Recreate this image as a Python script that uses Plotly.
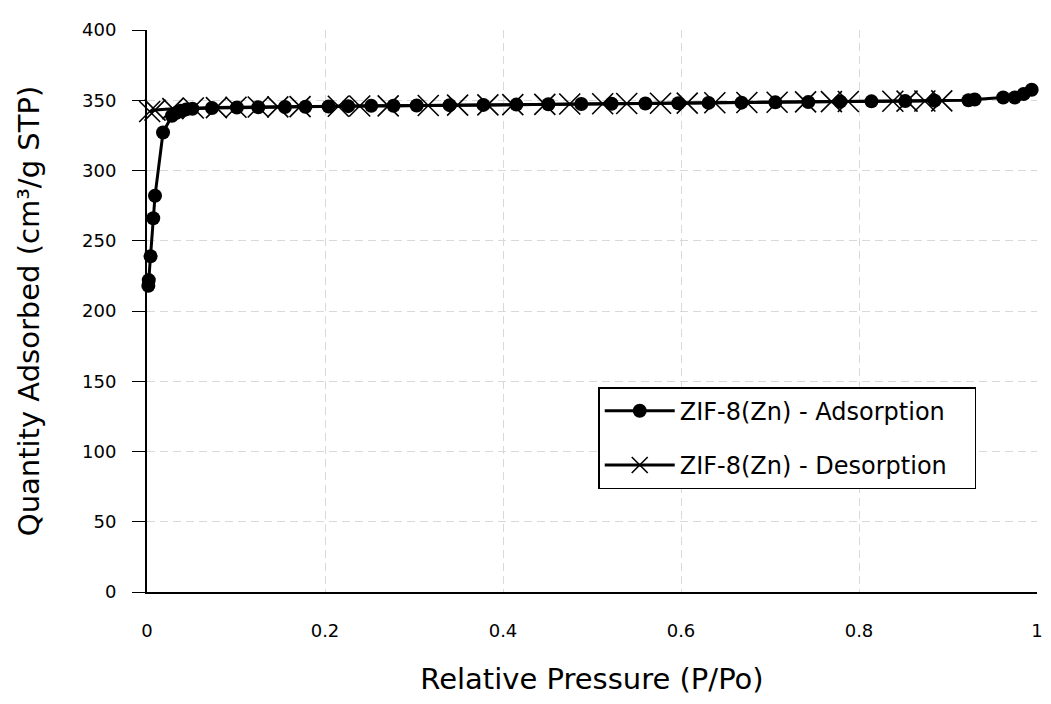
import plotly.graph_objects as go

ads_x = [0.0015, 0.002, 0.004, 0.007, 0.009, 0.018, 0.028, 0.033, 0.038, 0.044, 0.051, 0.073,
         0.101, 0.125, 0.155, 0.178, 0.204, 0.226, 0.252, 0.277, 0.303, 0.340, 0.378, 0.415,
         0.451, 0.488, 0.522, 0.560, 0.597, 0.631, 0.668, 0.706, 0.743, 0.779, 0.814, 0.852,
         0.885, 0.923, 0.930, 0.962, 0.975, 0.985, 0.994]
ads_y = [218, 222, 239, 266, 282, 327, 339, 341, 342.5, 343.5, 344, 344.5,
         344.8, 345, 345.2, 345.4, 345.6, 345.8, 346, 346.1, 346.3, 346.5, 346.7, 346.9,
         347.1, 347.3, 347.5, 347.7, 347.9, 348.1, 348.3, 348.5, 348.7, 349, 349.2, 349.4,
         349.7, 350, 350.5, 352, 352, 354.5, 357.5]

des_x = [0.003, 0.009, 0.029, 0.052, 0.078, 0.100, 0.125, 0.147, 0.172, 0.215, 0.239, 0.271,
         0.316, 0.349, 0.383, 0.411, 0.447, 0.475, 0.512, 0.539, 0.577, 0.607, 0.638, 0.674,
         0.708, 0.740, 0.769, 0.788, 0.838, 0.854, 0.874, 0.893]
des_y = [342, 343, 344, 344.5, 344.8, 345, 345.2, 345.3, 345.5, 345.7, 345.9, 346,
         346.3, 346.5, 346.7, 346.9, 347.1, 347.3, 347.5, 347.7, 347.9, 348, 348.2, 348.4,
         348.6, 348.8, 349, 349.1, 349.3, 349.4, 349.5, 349.6]

x_ticks = [0, 0.2, 0.4, 0.6, 0.8, 1]
x_tick_labels = ["0", "0.2", "0.4", "0.6", "0.8", "1"]
y_ticks = [0, 50, 100, 150, 200, 250, 300, 350, 400]

FONT = "DejaVu Sans"
GRID = "#d9d9d9"
PAD = "\u00a0\u00a0\u00a0"

fig = go.Figure()
fig.add_trace(go.Scatter(
    x=ads_x, y=ads_y, mode="lines+markers", name="ZIF-8(Zn) - Adsorption" + PAD,
    line=dict(color="black", width=3),
    marker=dict(symbol="circle", size=14, color="black"),
    legendgroup="a", cliponaxis=False,
))
fig.add_trace(go.Scatter(
    x=des_x, y=des_y, mode="lines+markers", name="ZIF-8(Zn) - Desorption" + PAD,
    line=dict(color="black", width=3),
    marker=dict(symbol="x-thin-open", size=21, color="black", line=dict(width=1.6, color="black")),
    legendgroup="d", cliponaxis=False,
))

fig.update_layout(
    width=1035, height=688,
    margin=dict(l=139, r=6, t=22, b=104),
    paper_bgcolor="white", plot_bgcolor="white",
    font=dict(family=FONT, size=18, color="black"),
    showlegend=True,
    legend=dict(
        x=0.507, y=0.3645, xanchor="left", yanchor="top",
        bordercolor="black", borderwidth=1.5, bgcolor="white",
        font=dict(family=FONT, size=24, color="black"),
        tracegroupgap=20, traceorder="grouped",
        itemwidth=70,
    ),
    xaxis=dict(
        range=[0, 1], tickvals=x_ticks, ticktext=x_tick_labels,
        showgrid=True, gridcolor=GRID, griddash="8px,5px", gridwidth=1.3,
        showline=True, linecolor="black", linewidth=2,
        ticks="", zeroline=False, ticklabelstandoff=21, automargin=False,
        title=dict(text="Relative Pressure (P/Po)", font=dict(family=FONT, size=29), standoff=49),
        tickfont=dict(family=FONT, size=18),
    ),
    yaxis=dict(
        range=[0, 400], tickvals=y_ticks,
        showgrid=True, gridcolor=GRID, griddash="8px,5px", gridwidth=1.3,
        showline=True, linecolor="black", linewidth=2,
        ticks="outside", ticklen=13, tickcolor="black", tickwidth=1,
        zeroline=False, ticklabelstandoff=12, automargin=False,
        title=dict(text="Quantity Adsorbed (cm³/g STP)", font=dict(family=FONT, size=29), standoff=34),
        tickfont=dict(family=FONT, size=18),
    ),
)

fig.write_html("out.html")
